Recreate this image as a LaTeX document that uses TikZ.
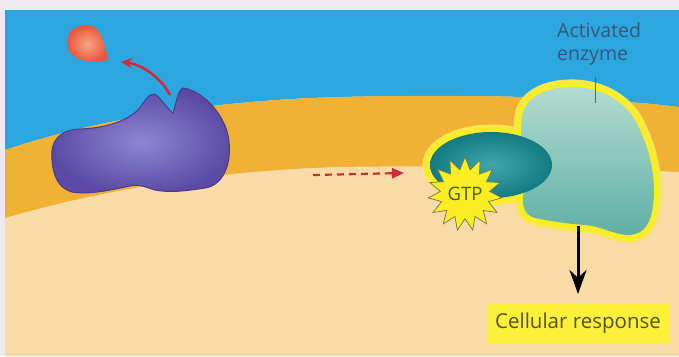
\documentclass[tikz,border=0pt]{standalone}
\usepackage{fontspec}
\setmainfont{Open Sans}
\usetikzlibrary{shapes.geometric,arrows.meta}

\definecolor{edgepaper}{HTML}{EFEAF0}
\definecolor{sky}{HTML}{2CA6DE}
\definecolor{membrane}{HTML}{F1B135}
\definecolor{cytosol}{HTML}{F8DBA6}
\definecolor{recLight}{HTML}{8E86D2}
\definecolor{recDark}{HTML}{5A4AA6}
\definecolor{recEdge}{HTML}{4A3A8A}
\definecolor{ligand}{HTML}{E8553A}
\definecolor{ligandLight}{HTML}{F9A684}
\definecolor{signalRed}{HTML}{D42A38}
\definecolor{dashRed}{HTML}{B8362E}
\definecolor{glow}{HTML}{F8EE22}
\definecolor{enzTop}{HTML}{B3DCCF}
\definecolor{enzBottom}{HTML}{5FAFA6}
\definecolor{gLight}{HTML}{3FA8AD}
\definecolor{gDark}{HTML}{137A82}
\definecolor{labelBlue}{HTML}{3A5677}
\definecolor{labelOlive}{HTML}{55522E}
\definecolor{boxYellow}{HTML}{FCF03A}

% outlines reused for the yellow halo and the fill
\newcommand\enzymeoutline{(523,112) .. controls (528,95) and (550,86) .. (575,87)
  .. controls (600,88) and (628,100) .. (640,130)
  .. controls (652,155) and (656,185) .. (653,205)
  .. controls (651,222) and (645,235) .. (628,235)
  .. controls (612,234) and (600,226) .. (585,225)
  .. controls (570,224) and (555,222) .. (535,218)
  .. controls (524,215) and (522,205) .. (523,195)
  .. controls (524,170) and (518,130) .. (523,112) -- cycle}
\newcommand\receptoroutline{(52,160) .. controls (50,140) and (60,130) .. (80,129)
  .. controls (105,128) and (125,122) .. (138,110)
  .. controls (144,103) and (148,94) .. (154,94)
  .. controls (160,96) and (166,108) .. (173,113)
  .. controls (176,104) and (178,90) .. (183,88)
  .. controls (200,90) and (222,110) .. (228,135)
  .. controls (233,160) and (225,185) .. (205,188)
  .. controls (185,191) and (170,193) .. (155,190)
  .. controls (145,187) and (140,184) .. (130,186)
  .. controls (110,190) and (90,195) .. (72,192)
  .. controls (58,188) and (53,175) .. (52,160) -- cycle}

\tikzset{
  labeltext/.style={text=labelBlue, font=\fontsize{19.5}{23}\selectfont, align=left, inner sep=0pt},
  responsebox/.style={fill=boxYellow, text=labelOlive, font=\fontsize{20.5}{24}\selectfont,
    minimum width=183pt, minimum height=40pt, inner sep=0pt},
  gtpstar/.style={star, star points=15, star point ratio=1.5, minimum size=70pt,
    fill=glow, draw=labelOlive!80, line width=0.7pt, inner sep=0pt,
    text=labelOlive, font=\fontsize{18.5}{20}\selectfont},
  signal/.style={signalRed, line width=2.6pt, -{Stealth[length=11pt,width=10pt]}},
  relay/.style={dashRed, line width=2.2pt, dash pattern=on 7pt off 5pt,
    -{Triangle[length=12pt,width=10pt,fill=signalRed,color=signalRed]}},
  response/.style={black, line width=3pt, -{Stealth[length=24pt,width=17pt]}},
}

\begin{document}
\begin{tikzpicture}[x=1pt,y=-1pt]
\useasboundingbox (0,0) rectangle (679,356);
\fill[edgepaper] (0,0) rectangle (679,356);

% cytosol, extracellular space and membrane band
\fill[cytosol] (5,10) rectangle (679,356);
\fill[sky] (5,10) -- (679,10) -- (679,107)
  .. controls (600,97) and (470,94) .. (340,97)
  .. controls (220,100) and (100,118) .. (5,150) -- cycle;
\fill[membrane] (5,150) .. controls (100,118) and (220,100) .. (340,97)
  .. controls (470,94) and (600,97) .. (679,107) -- (679,172)
  .. controls (600,168) and (450,165) .. (340,167)
  .. controls (220,170) and (100,190) .. (5,218) -- cycle;

% receptor
\shade[inner color=recLight, outer color=recDark] \receptoroutline;
\draw[recEdge, line width=1pt] \receptoroutline;

% signal molecule leaving the receptor
\shade[inner color=ligandLight, outer color=ligand]
  (108,60) .. controls (96,63) and (67,63) .. (67,43)
  .. controls (67,30) and (77,25) .. (87,25)
  .. controls (100,25) and (104,40) .. (108,60) -- cycle;
\coordinate (site) at (170,95);
\coordinate (away) at (121,62);
\draw[signal] (site) .. controls (160,76) and (140,64) .. (away);

% activated enzyme complex with its halo
\draw[glow!70!cytosol, line width=15pt, line join=round] \enzymeoutline;
\draw[glow!70!cytosol, line width=15pt] (491,165) ellipse [x radius=61, y radius=33];
\draw[glow, line width=9pt, line join=round] \enzymeoutline;
\draw[glow, line width=9pt] (491,165) ellipse [x radius=61, y radius=33];
\shade[top color=enzTop, bottom color=enzBottom] \enzymeoutline;
\shade[inner color=gLight, outer color=gDark] (491,165) ellipse [x radius=61, y radius=33];
\node[gtpstar] (gtp) at (465,194) {GTP};

% relay arrow toward the enzyme
\coordinate (relayStart) at (313,175);
\coordinate (relayEnd) at (404,173);
\draw[relay] (relayStart) -- (relayEnd);

% label and pointer
\node[labeltext, anchor=north west] (actlabel) at (557,22) {Activated\\enzyme};
\coordinate (ptrTop) at (595,77);
\coordinate (ptrBottom) at (595,103);
\draw[labelBlue!70!gray, line width=0.8pt] (ptrTop) -- (ptrBottom);

% cellular response
\node[responsebox] (resp) at (578,323) {Cellular response};
\coordinate (enzBase) at (578,226);
\draw[response] (enzBase) -- (578,294);
\end{tikzpicture}
\end{document}
